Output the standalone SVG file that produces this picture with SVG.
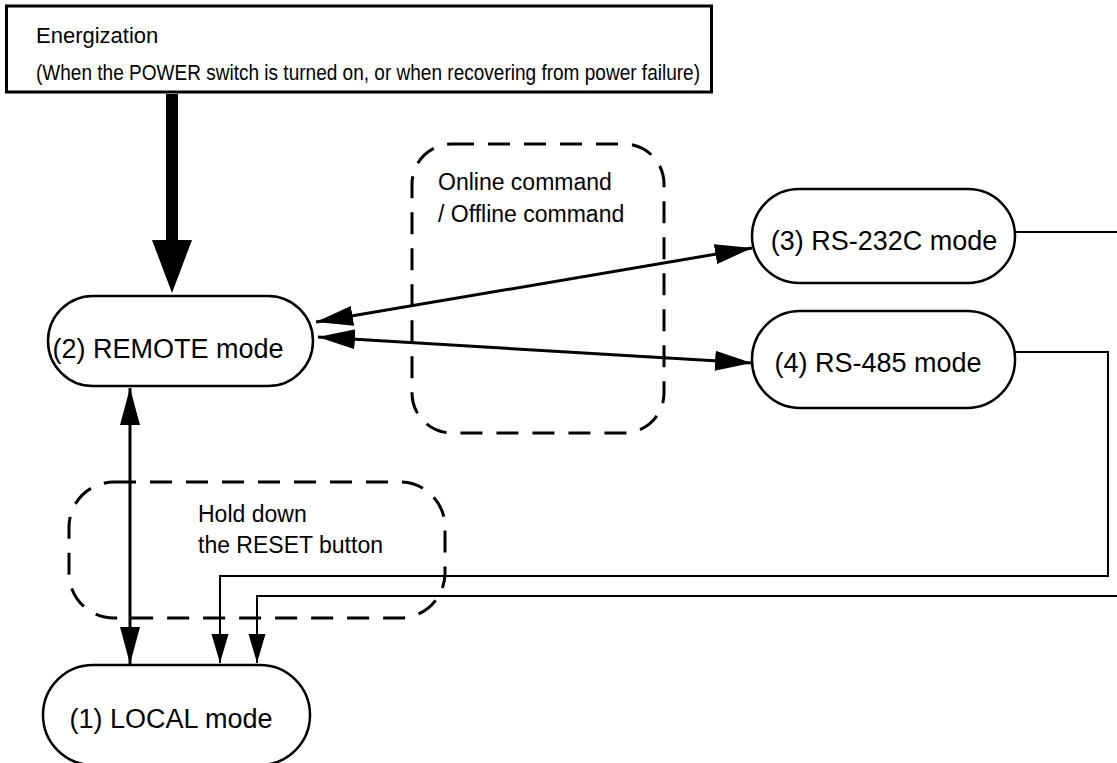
<svg xmlns="http://www.w3.org/2000/svg" width="1117" height="763" viewBox="0 0 1117 763">
<style>
.node{fill:#fff;stroke:#000;stroke-width:2.5}
.t{font-family:"Liberation Sans",Arial,sans-serif;fill:#000}
.nt{font-size:27px;text-anchor:middle}
.lbl{font-size:23px}
.top{font-size:22px}
.dash{fill:none;stroke:#000;stroke-width:3;stroke-dasharray:22 14}
.c2{fill:none;stroke:#000;stroke-width:3}
.c1{fill:none;stroke:#000;stroke-width:2}
</style>
<defs>
<marker id="big" markerUnits="userSpaceOnUse" markerWidth="38" markerHeight="22" refX="37" refY="10" orient="auto-start-reverse" viewBox="0 0 38 22"><path d="M0,0 L37,10 L0,20 z" fill="#000"/></marker>
<marker id="small" markerUnits="userSpaceOnUse" markerWidth="30" markerHeight="18" refX="29" refY="8.5" orient="auto" viewBox="0 0 30 18"><path d="M0,0 L29,8.5 L0,17 z" fill="#000"/></marker>
</defs>
<rect width="1117" height="763" fill="#fff"/>
<g id="energization">
<rect x="6.5" y="6" width="705" height="86" fill="#fff" stroke="#000" stroke-width="3"/>
<text class="t top" x="36" y="43">Energization</text>
<text class="t top" x="36" y="80" textLength="664" lengthAdjust="spacingAndGlyphs">(When the POWER switch is turned on, or when recovering from power failure)</text>
</g>
<g id="label-online">
<rect class="dash" x="412" y="144" width="252" height="289" rx="40"/>
<text class="t lbl" x="438" y="190">Online command</text>
<text class="t lbl" x="438" y="222">/ Offline command</text>
</g>
<g id="label-reset">
<rect class="dash" x="69" y="482" width="376" height="136" rx="45"/>
<text class="t lbl" x="198" y="522">Hold down</text>
<text class="t lbl" x="198" y="553">the RESET button</text>
</g>
<g id="remote">
<rect class="node" x="48" y="296" width="265" height="90" rx="45"/>
<text class="t nt" x="168" y="358">(2) REMOTE mode</text>
</g>
<g id="rs232c">
<rect class="node" x="752" y="189" width="263" height="94" rx="47"/>
<text class="t nt" x="884" y="250">(3) RS-232C mode</text>
</g>
<g id="rs485">
<rect class="node" x="752" y="311" width="263" height="97" rx="48"/>
<text class="t nt" x="878" y="372">(4) RS-485 mode</text>
</g>
<g id="local">
<rect class="node" x="43" y="665" width="267" height="100" rx="50"/>
<text class="t nt" x="171" y="728">(1) LOCAL mode</text>
</g>
<g id="connectors">
<rect x="166" y="94" width="12" height="148" fill="#000"/>
<polygon points="152,240 192,240 172,293" fill="#000"/>
<line class="c2" x1="316" y1="322" x2="752" y2="248" marker-start="url(#big)" marker-end="url(#big)"/>
<line class="c2" x1="318" y1="337" x2="752" y2="363" marker-start="url(#big)" marker-end="url(#big)"/>
<line class="c2" x1="130" y1="388" x2="130" y2="664" marker-start="url(#big)" marker-end="url(#big)"/>
<path class="c1" d="M1015,232 H1117"/>
<path class="c1" d="M1117,596 H257 V663" marker-end="url(#small)"/>
<path class="c1" d="M1015,352 H1108 V576 H220 V663" marker-end="url(#small)"/>
</g>
</svg>
